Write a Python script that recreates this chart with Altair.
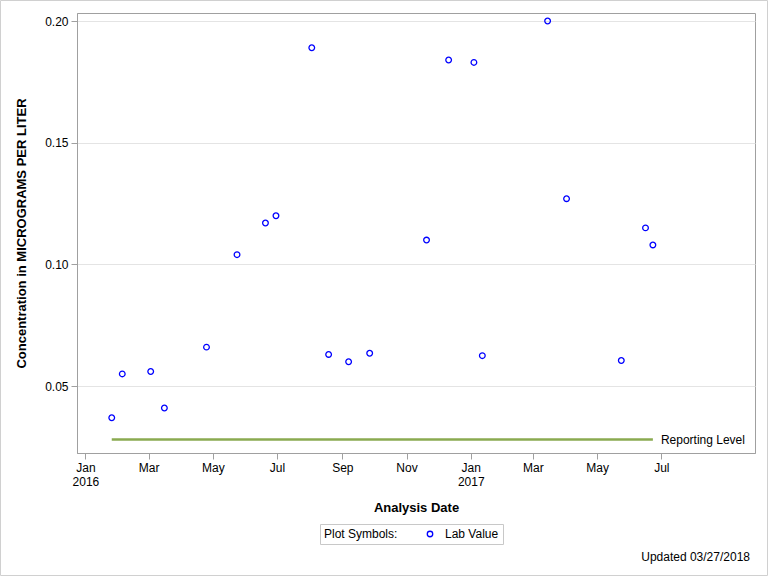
import altair as alt
import pandas as pd

# ---- data ----
sample_dates = ["2016-01-26", "2016-02-05", "2016-03-03", "2016-03-16", "2016-04-25",
                "2016-05-24", "2016-06-20", "2016-06-30", "2016-08-03", "2016-08-19",
                "2016-09-07", "2016-09-27", "2016-11-20", "2016-12-11", "2017-01-04",
                "2017-01-12", "2017-03-15", "2017-04-02", "2017-05-24", "2017-06-16",
                "2017-06-23"]
sample_values = [0.037, 0.055, 0.056, 0.041, 0.066,
                 0.104, 0.117, 0.120, 0.189, 0.063,
                 0.060, 0.0635, 0.110, 0.184, 0.183,
                 0.0625, 0.200, 0.127, 0.0605, 0.115,
                 0.108]
series_name = "Lab Value"

reporting_start = "2016-01-26"
reporting_end = "2017-06-23"
reporting_value = 0.028
reporting_label = "Reporting Level"

y_ticks = [0.05, 0.10, 0.15, 0.20]
x_tick_months = [(2016, 1), (2016, 3), (2016, 5), (2016, 7), (2016, 9), (2016, 11),
                 (2017, 1), (2017, 3), (2017, 5), (2017, 7)]
footnote = "Updated 03/27/2018"

FONT = "Liberation Sans"

pts = pd.DataFrame({"date": sample_dates, "value": sample_values, "series": series_name})
rl = pd.DataFrame({"start": [reporting_start], "end": [reporting_end],
                   "value": [reporting_value], "label": [reporting_label]})
foot = pd.DataFrame({"text": [footnote]})

x_scale = alt.Scale(type="utc",
                    domain=[alt.DateTime(year=2015, month=12, date=24, utc=True),
                            alt.DateTime(year=2017, month=9, date=28, utc=True)])
y_scale = alt.Scale(domain=[0.0225, 0.2033], nice=False, zero=False)

x_axis = alt.Axis(
    values=[alt.DateTime(year=y, month=m, date=1, utc=True) for y, m in x_tick_months],
    labelExpr="utcFormat(datum.value, '%m') == '01' ? [utcFormat(datum.value, '%b'), utcFormat(datum.value, '%Y')] : utcFormat(datum.value, '%b')",
    title="Analysis Date", grid=False, labelLineHeight=14, labelPadding=3,
    titlePadding=14,
)
y_axis = alt.Axis(values=y_ticks, format=".2f", title="Concentration in MICROGRAMS PER LITER",
                  grid=True, titlePadding=16, labelPadding=3)

points = alt.Chart(pts).mark_point(filled=False, size=32, strokeWidth=1.3, opacity=1).encode(
    x=alt.X("date:T", scale=x_scale, axis=x_axis),
    y=alt.Y("value:Q", scale=y_scale, axis=y_axis),
    color=alt.Color("series:N", scale=alt.Scale(domain=[series_name], range=["#0000ff"]),
                    legend=alt.Legend(title="Plot Symbols:", orient="none", legendX=243, legendY=511,
                                      direction="horizontal", titleOrient="left", titlePadding=26,
                                      strokeColor="#c8c8c8", padding=4, symbolSize=30,
                                      symbolStrokeWidth=1.3, labelOffset=9,
                                      titleFontWeight="normal", titleFontSize=12, labelFontSize=12,
                                      titleFont=FONT, labelFont=FONT, titleColor="#000000",
                                      labelColor="#000000", titleBaseline="middle")),
)

rule = alt.Chart(rl).mark_rule(color="#8aaa50", strokeWidth=2.5).encode(
    x="start:T", x2="end:T", y="value:Q",
)
rule_text = alt.Chart(rl).mark_text(align="left", baseline="middle", dx=8, fontSize=12,
                                    font=FONT, color="#000000").encode(
    x="end:T", y="value:Q", text="label:N",
)

foot_text = alt.Chart(foot).mark_text(align="right", baseline="middle", fontSize=12,
                                      font=FONT, color="#000000").encode(
    x=alt.value(673), y=alt.value(544), text="text:N",
)
border = alt.Chart(foot).mark_rect(fillOpacity=0, stroke="#d0d0d0", strokeWidth=1).encode(
    x=alt.value(-76.5), x2=alt.value(690.5), y=alt.value(-12.5), y2=alt.value(562.5),
)

chart = alt.layer(border, rule, rule_text, points, foot_text).properties(
    width=678, height=440,
    padding={"left": 77, "top": 13, "right": 13, "bottom": 123},
    autosize=alt.AutoSizeParams(type="none"),
    background="white",
).configure_view(stroke="#a0a0a0", strokeWidth=1).configure_axis(
    domainColor="#a0a0a0", tickColor="#a0a0a0", gridColor="#e4e4e4", tickSize=6,
    labelFont=FONT, titleFont=FONT, labelFontSize=12, titleFontSize=13,
    labelColor="#000000", titleColor="#000000", titleFontWeight="bold",
)

chart.save("out.html", embed_options={"renderer": "svg", "actions": False})
